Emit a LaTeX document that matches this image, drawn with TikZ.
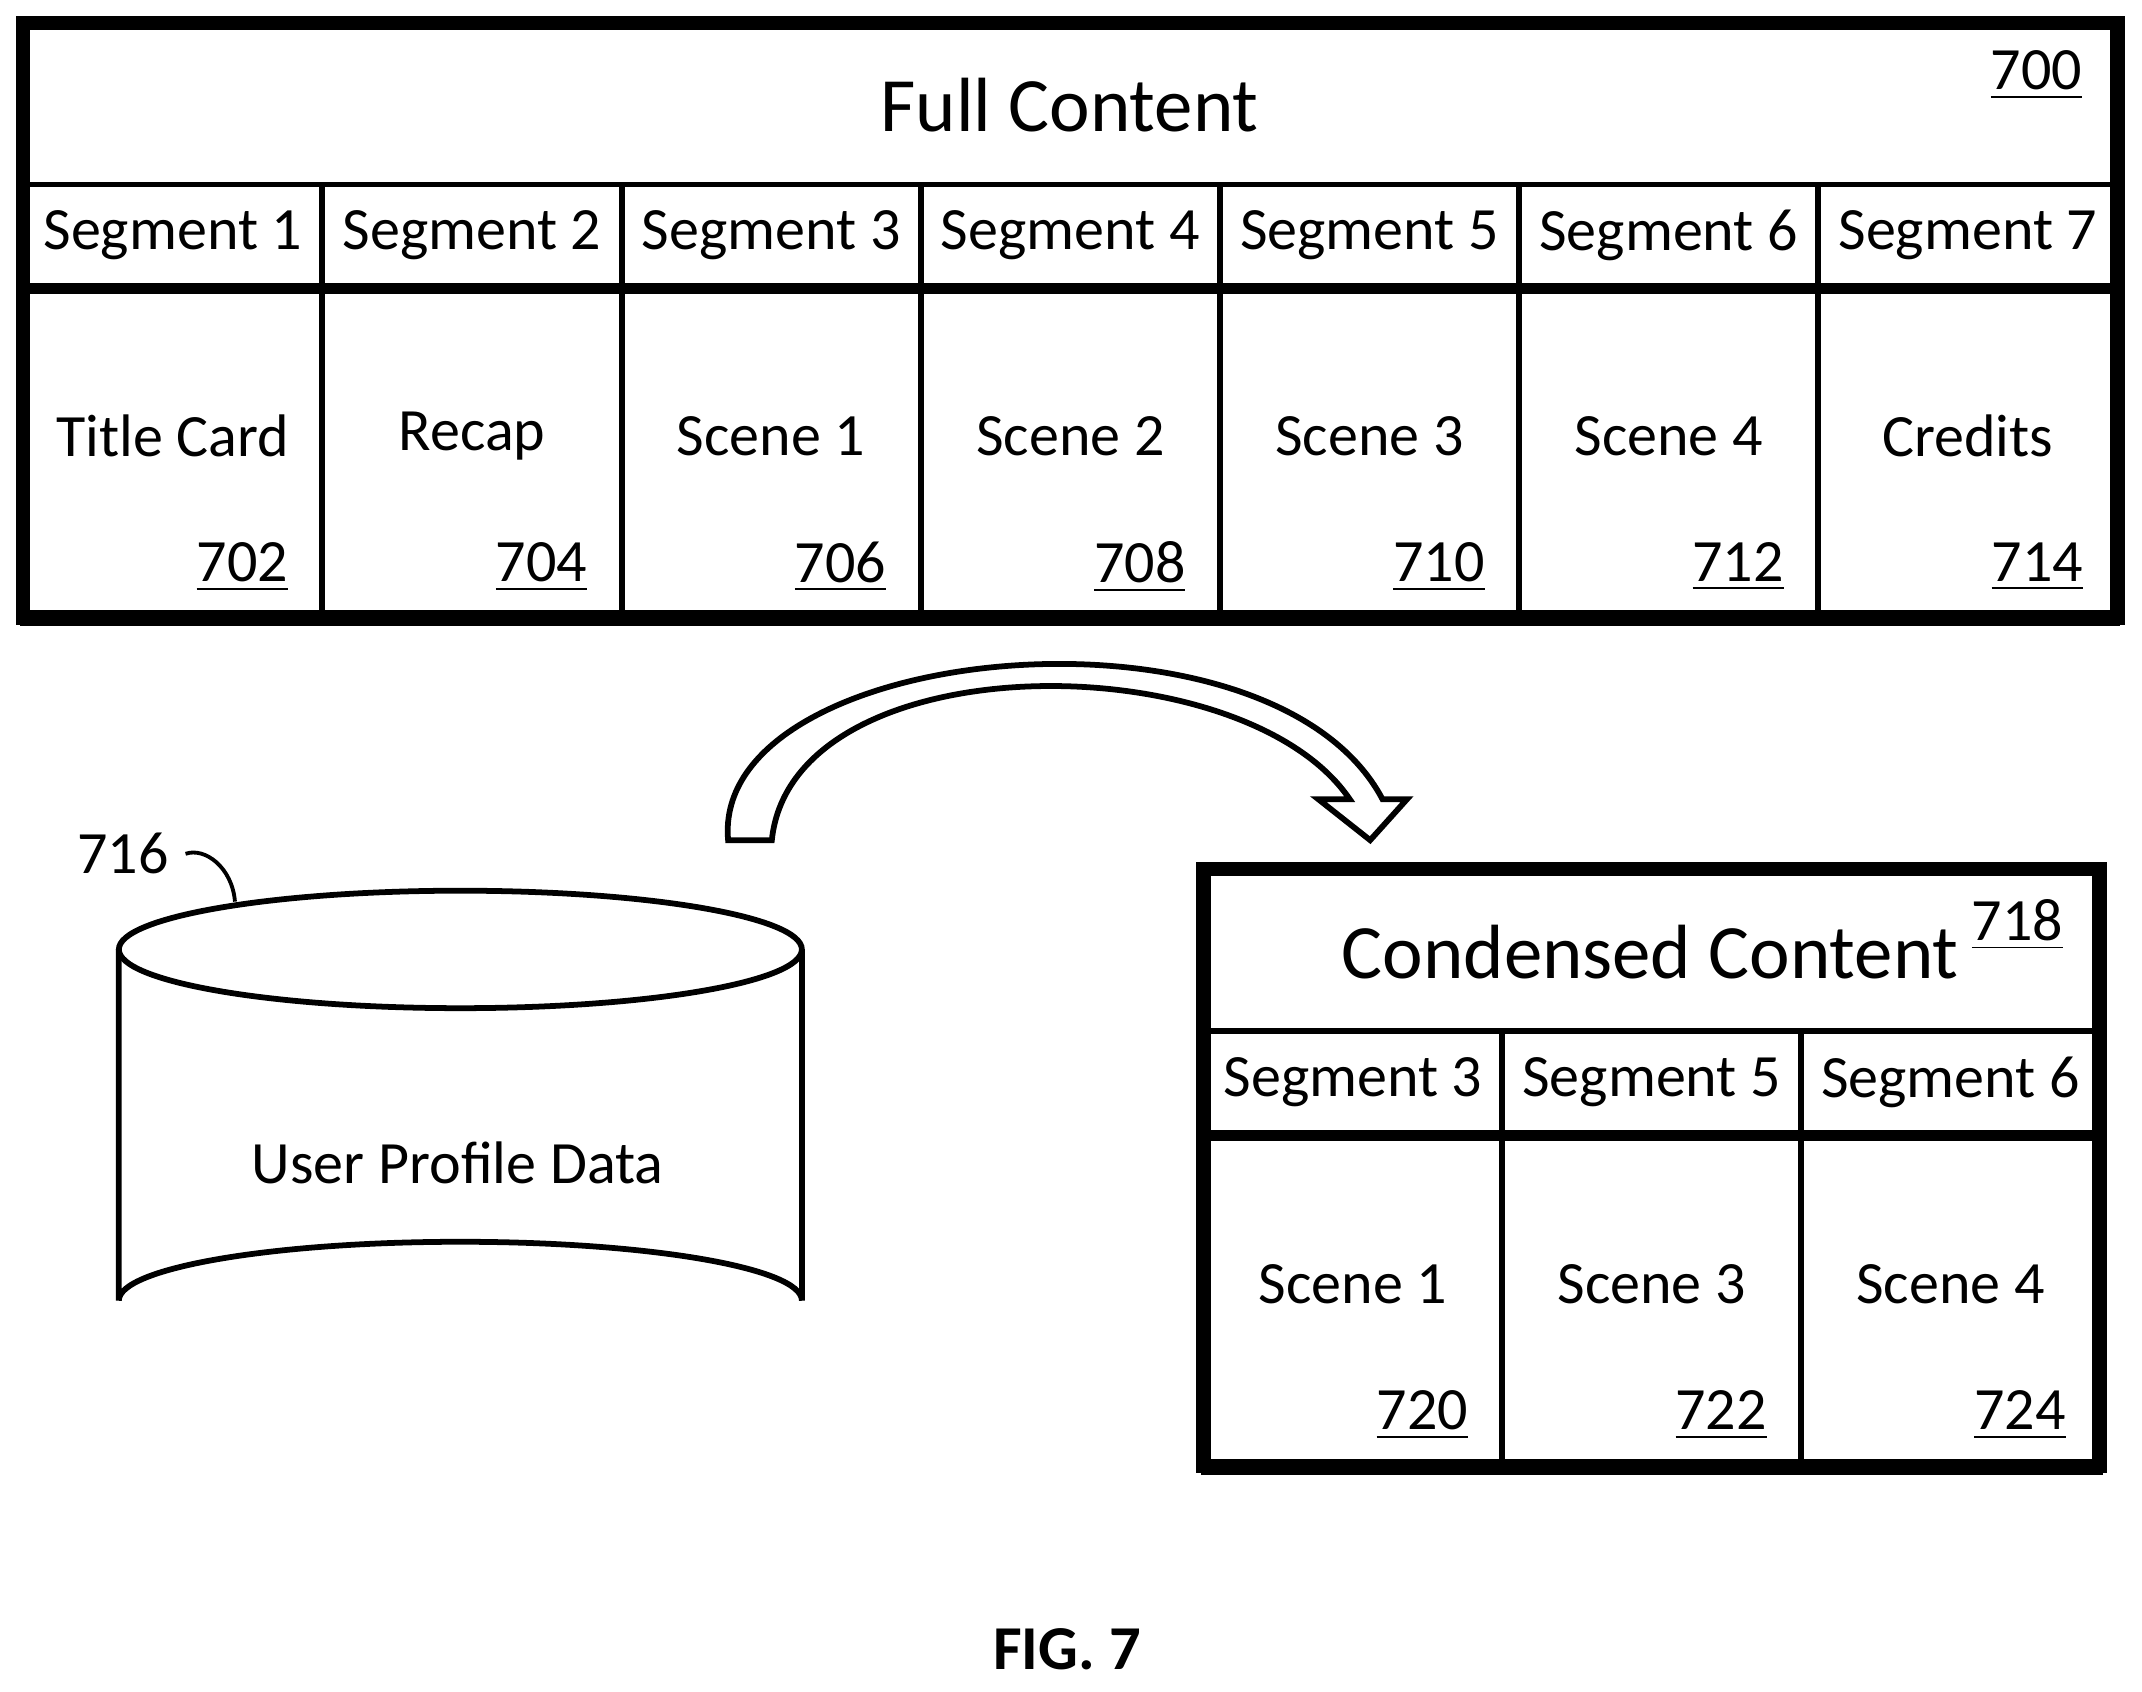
\documentclass[tikz,border=0pt]{standalone}
\usepackage{fontspec}
\setmainfont{Carlito}
\usetikzlibrary{positioning}
\tikzset{
  cell/.style={draw, line width=1.2pt, rectangle, inner sep=0pt},
  frame/.style={draw, line width=3pt, rectangle, inner sep=0pt},
  lab/.style={font=\fontsize{12.5}{14}\selectfont},
  num/.style={font=\fontsize{12.5}{14}\selectfont, anchor=east, inner sep=0pt},
}
\newcommand{\refnum}[1]{\underline{#1}}
\begin{document}
\begin{tikzpicture}[x=0.01cm,y=-0.01cm]
  \useasboundingbox (0,0) rectangle (1568,1238);
  % Full content
  \node[cell, minimum width=1533\pgflinewidth*0+15.33cm, minimum height=1.18cm] (fullhead) at (783.5,76) {};
  \node[font=\fontsize{16}{18}\selectfont] (fulltitle) at (783,77) {Full Content};
  \node[num] (n700) at (1525,55) {\refnum{700}};
  \foreach \seg/\txt/\num [count=\i] in {1/Title Card/702, 2/Recap/704, 3/Scene 1/706, 4/Scene 2/708, 5/Scene 3/710, 6/Scene 4/712, 7/Credits/714} {
    \pgfmathsetmacro{\cx}{17+219*(\i-0.5)}
    \node[cell, minimum width=2.19cm, minimum height=0.74cm] (seg\i) at (\cx,172) {};
    \node[lab] at (seg\i) {Segment \seg};
    \node[cell, minimum width=2.19cm, minimum height=2.43cm, below=0pt of seg\i] (scene\i) {};
    \node[lab] at (\cx,319) {\txt};
    \node[num] at (\cx+85,415) {\refnum{\num}};
  }
  \draw[line width=3pt] (17,17) rectangle (1550,452);

  % User profile data
  \draw[line width=1.2pt, fill=white] (87,695) -- (87,952) arc[start angle=180, end angle=360, x radius=250, y radius=43] -- (587,695);
  \draw[line width=1.2pt] (337,695) ellipse[x radius=250, y radius=43];
  \node[lab] (db) at (335,851) {User Profile Data};
  \node[lab] (n716) at (90,625) {716};
  \coordinate (dbtop) at (172,660);
  \draw[line width=0.8pt] (n716.east) .. controls (150,620) and (170,635) .. (dbtop);

  % Curved arrow
  \draw[line width=1.2pt, fill=white] (533,615) .. controls (520,470) and (930,430) .. (1012,585)
    -- (1030,585) -- (1003,615) -- (965,585) -- (988,585)
    .. controls (910,470) and (580,470) .. (565,615) -- cycle;

  % Condensed content
  \node[cell, minimum width=6.56cm, minimum height=1.19cm] (condhead) at (1209,695.5) {};
  \node[font=\fontsize{16}{18}\selectfont] (condtitle) at (1208,697) {Condensed Content};
  \node[num] (n718) at (1511,677) {\refnum{718}};
  \foreach \seg/\txt/\num [count=\i] in {3/Scene 1/720, 5/Scene 3/722, 6/Scene 4/724} {
    \pgfmathsetmacro{\cx}{881+218.7*(\i-0.5)}
    \node[cell, minimum width=2.187cm, minimum height=0.74cm] (cseg\i) at (\cx,792) {};
    \node[lab] at (cseg\i) {Segment \seg};
    \node[cell, minimum width=2.187cm, minimum height=2.44cm, below=0pt of cseg\i] (cscene\i) {};
    \node[lab] at (\cx,940) {\txt};
    \node[num] at (\cx+85,1036) {\refnum{\num}};
  }
  \draw[line width=3pt] (881,636) rectangle (1537,1073);

  \node[font=\fontsize{13}{15}\selectfont\bfseries] (fig) at (781,1207) {FIG. 7};
\end{tikzpicture}
\end{document}
